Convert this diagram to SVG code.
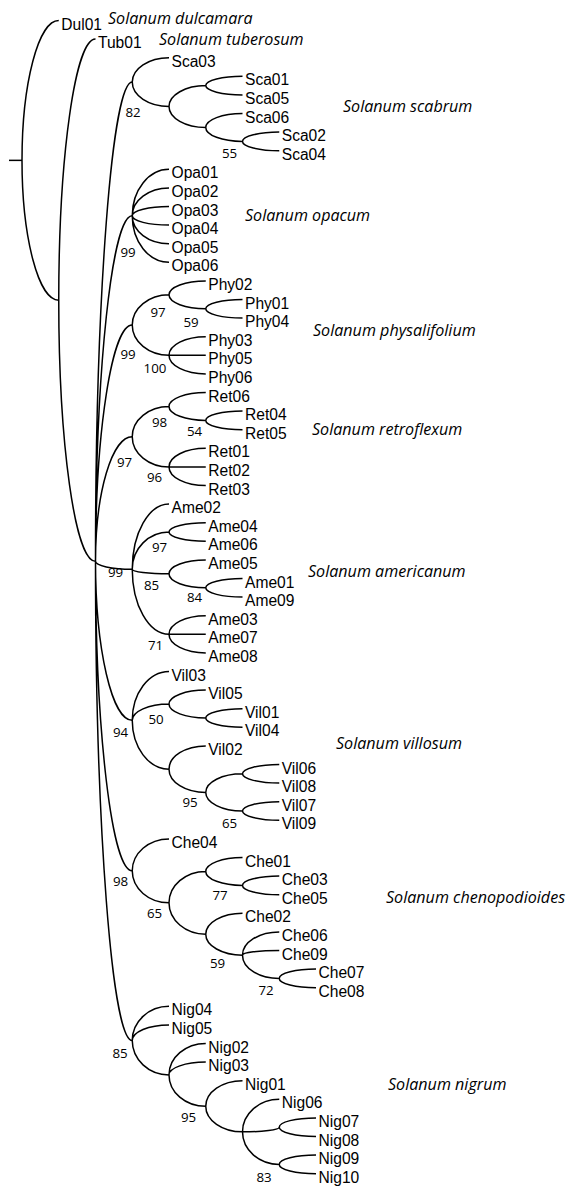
<svg xmlns="http://www.w3.org/2000/svg" width="572" height="1187" viewBox="0 0 572 1187">
<style>
.e{fill:none;stroke:#000;stroke-width:1.5}
.lf{font-family:"Liberation Sans",Arial,sans-serif;font-size:15.6px;fill:#000}
.sp{font-family:"Open Sans",sans-serif;font-style:italic;font-size:16.1px;fill:#000}
.bs{font-family:"Open Sans",sans-serif;font-size:13.3px;fill:#000;text-anchor:middle}
</style>
<rect width="572" height="1187" fill="#fff"/>
<g id="connectors" class="e">
<path d="M9 160.36H22"/>
<path d="M22 160.36A36.75 139.86 0 0 1 58.75 20.5M22 160.36A36.75 139.87 0 0 0 58.75 300.23"/>
<path d="M58.75 300.23A36.75 261.13 0 0 1 95.5 39.1M58.75 300.23A36.75 261.12 0 0 0 95.5 561.35"/>
<path d="M95.5 561.35A36.75 479.24 0 0 1 132.25 82.11M95.5 561.35A36.75 345.55 0 0 1 132.25 215.8M95.5 561.35A36.75 236.27 0 0 1 132.25 325.08M95.5 561.35A36.75 124.67 0 0 1 132.25 436.68M95.5 561.35A36.75 7.85 0 0 0 132.25 569.2M95.5 561.35A36.75 158.98 0 0 0 132.25 720.33M95.5 561.35A36.75 309.52 0 0 0 132.25 870.87M95.5 561.35A36.75 479.24 0 0 0 132.25 1040.59"/>
<path d="M132.25 82.11A36.75 24.41 0 0 1 169 57.7M132.25 82.11A36.75 24.42 0 0 0 169 106.53M169 106.53A36.75 20.93 0 0 1 205.75 85.6M169 106.53A36.75 20.92 0 0 0 205.75 127.45M205.75 85.6A36.75 9.3 0 0 1 242.5 76.3M205.75 85.6A36.75 9.3 0 0 0 242.5 94.9M205.75 127.45A36.75 13.95 0 0 1 242.5 113.5M205.75 127.45A36.75 13.95 0 0 0 242.5 141.4M242.5 141.4A36.75 9.3 0 0 1 279.25 132.1M242.5 141.4A36.75 9.3 0 0 0 279.25 150.7"/>
<path d="M132.25 215.8A36.75 46.5 0 0 1 169 169.3M132.25 215.8A36.75 27.9 0 0 1 169 187.9M132.25 215.8A36.75 9.3 0 0 1 169 206.5M132.25 215.8A36.75 9.3 0 0 0 169 225.1M132.25 215.8A36.75 27.9 0 0 0 169 243.7M132.25 215.8A36.75 46.5 0 0 0 169 262.3"/>
<path d="M132.25 325.08A36.75 30.23 0 0 1 169 294.85M132.25 325.08A36.75 30.22 0 0 0 169 355.3M169 294.85A36.75 13.95 0 0 1 205.75 280.9M169 294.85A36.75 13.95 0 0 0 205.75 308.8M205.75 308.8A36.75 9.3 0 0 1 242.5 299.5M205.75 308.8A36.75 9.3 0 0 0 242.5 318.1M169 355.3A36.75 18.6 0 0 1 205.75 336.7M169 355.3H205.75M169 355.3A36.75 18.6 0 0 0 205.75 373.9"/>
<path d="M132.25 436.68A36.75 30.23 0 0 1 169 406.45M132.25 436.68A36.75 30.22 0 0 0 169 466.9M169 406.45A36.75 13.95 0 0 1 205.75 392.5M169 406.45A36.75 13.95 0 0 0 205.75 420.4M205.75 420.4A36.75 9.3 0 0 1 242.5 411.1M205.75 420.4A36.75 9.3 0 0 0 242.5 429.7M169 466.9A36.75 18.6 0 0 1 205.75 448.3M169 466.9H205.75M169 466.9A36.75 18.6 0 0 0 205.75 485.5"/>
<path d="M132.25 569.2A36.75 65.1 0 0 1 169 504.1M132.25 569.2A36.75 37.2 0 0 1 169 532M132.25 569.2A36.75 4.65 0 0 0 169 573.85M132.25 569.2A36.75 65.1 0 0 0 169 634.3M169 532A36.75 9.3 0 0 1 205.75 522.7M169 532A36.75 9.3 0 0 0 205.75 541.3M169 573.85A36.75 13.95 0 0 1 205.75 559.9M169 573.85A36.75 13.95 0 0 0 205.75 587.8M205.75 587.8A36.75 9.3 0 0 1 242.5 578.5M205.75 587.8A36.75 9.3 0 0 0 242.5 597.1M169 634.3A36.75 18.6 0 0 1 205.75 615.7M169 634.3H205.75M169 634.3A36.75 18.6 0 0 0 205.75 652.9"/>
<path d="M132.25 720.33A36.75 48.83 0 0 1 169 671.5M132.25 720.33A36.75 16.28 0 0 1 169 704.05M132.25 720.33A36.75 48.82 0 0 0 169 769.15M169 704.05A36.75 13.95 0 0 1 205.75 690.1M169 704.05A36.75 13.95 0 0 0 205.75 718M205.75 718A36.75 9.3 0 0 1 242.5 708.7M205.75 718A36.75 9.3 0 0 0 242.5 727.3M169 769.15A36.75 23.25 0 0 1 205.75 745.9M169 769.15A36.75 23.25 0 0 0 205.75 792.4M205.75 792.4A36.75 18.6 0 0 1 242.5 773.8M205.75 792.4A36.75 18.6 0 0 0 242.5 811M242.5 773.8A36.75 9.3 0 0 1 279.25 764.5M242.5 773.8A36.75 9.3 0 0 0 279.25 783.1M242.5 811A36.75 9.3 0 0 1 279.25 801.7M242.5 811A36.75 9.3 0 0 0 279.25 820.3"/>
<path d="M132.25 870.87A36.75 31.97 0 0 1 169 838.9M132.25 870.87A36.75 31.97 0 0 0 169 902.84M169 902.84A36.75 31.39 0 0 1 205.75 871.45M169 902.84A36.75 31.39 0 0 0 205.75 934.23M205.75 871.45A36.75 13.95 0 0 1 242.5 857.5M205.75 871.45A36.75 13.95 0 0 0 242.5 885.4M242.5 885.4A36.75 9.3 0 0 1 279.25 876.1M242.5 885.4A36.75 9.3 0 0 0 279.25 894.7M205.75 934.23A36.75 20.93 0 0 1 242.5 913.3M205.75 934.23A36.75 20.92 0 0 0 242.5 955.15M242.5 955.15A36.75 23.25 0 0 1 279.25 931.9M242.5 955.15A36.75 4.65 0 0 1 279.25 950.5M242.5 955.15A36.75 23.25 0 0 0 279.25 978.4M279.25 978.4A36.75 9.3 0 0 1 316 969.1M279.25 978.4A36.75 9.3 0 0 0 316 987.7"/>
<path d="M132.25 1040.59A36.75 34.29 0 0 1 169 1006.3M132.25 1040.59A36.75 15.69 0 0 1 169 1024.9M132.25 1040.59A36.75 34.3 0 0 0 169 1074.89M169 1074.89A36.75 31.39 0 0 1 205.75 1043.5M169 1074.89A36.75 12.79 0 0 1 205.75 1062.1M169 1074.89A36.75 31.39 0 0 0 205.75 1106.28M205.75 1106.28A36.75 25.58 0 0 1 242.5 1080.7M205.75 1106.28A36.75 25.57 0 0 0 242.5 1131.85M242.5 1131.85A36.75 32.55 0 0 1 279.25 1099.3M242.5 1131.85A36.75 4.65 0 0 0 279.25 1127.2M242.5 1131.85A36.75 32.55 0 0 0 279.25 1164.4M279.25 1127.2A36.75 9.3 0 0 1 316 1117.9M279.25 1127.2A36.75 9.3 0 0 0 316 1136.5M279.25 1164.4A36.75 9.3 0 0 1 316 1155.1M279.25 1164.4A36.75 9.3 0 0 0 316 1173.7"/>
</g>
<g id="leaves" class="lf">
<g id="Dul01"><text x="61.25" y="29.5">Dul01</text></g>
<g id="Tub01"><text x="98" y="48.1">Tub01</text></g>
<g id="Sca03"><text x="171.5" y="66.7">Sca03</text></g>
<g id="Sca01"><text x="245" y="85.3">Sca01</text></g>
<g id="Sca05"><text x="245" y="103.9">Sca05</text></g>
<g id="Sca06"><text x="245" y="122.5">Sca06</text></g>
<g id="Sca02"><text x="281.75" y="141.1">Sca02</text></g>
<g id="Sca04"><text x="281.75" y="159.7">Sca04</text></g>
<g id="Opa01"><text x="171.5" y="178.3">Opa01</text></g>
<g id="Opa02"><text x="171.5" y="196.9">Opa02</text></g>
<g id="Opa03"><text x="171.5" y="215.5">Opa03</text></g>
<g id="Opa04"><text x="171.5" y="234.1">Opa04</text></g>
<g id="Opa05"><text x="171.5" y="252.7">Opa05</text></g>
<g id="Opa06"><text x="171.5" y="271.3">Opa06</text></g>
<g id="Phy02"><text x="208.25" y="289.9">Phy02</text></g>
<g id="Phy01"><text x="245" y="308.5">Phy01</text></g>
<g id="Phy04"><text x="245" y="327.1">Phy04</text></g>
<g id="Phy03"><text x="208.25" y="345.7">Phy03</text></g>
<g id="Phy05"><text x="208.25" y="364.3">Phy05</text></g>
<g id="Phy06"><text x="208.25" y="382.9">Phy06</text></g>
<g id="Ret06"><text x="208.25" y="401.5">Ret06</text></g>
<g id="Ret04"><text x="245" y="420.1">Ret04</text></g>
<g id="Ret05"><text x="245" y="438.7">Ret05</text></g>
<g id="Ret01"><text x="208.25" y="457.3">Ret01</text></g>
<g id="Ret02"><text x="208.25" y="475.9">Ret02</text></g>
<g id="Ret03"><text x="208.25" y="494.5">Ret03</text></g>
<g id="Ame02"><text x="171.5" y="513.1">Ame02</text></g>
<g id="Ame04"><text x="208.25" y="531.7">Ame04</text></g>
<g id="Ame06"><text x="208.25" y="550.3">Ame06</text></g>
<g id="Ame05"><text x="208.25" y="568.9">Ame05</text></g>
<g id="Ame01"><text x="245" y="587.5">Ame01</text></g>
<g id="Ame09"><text x="245" y="606.1">Ame09</text></g>
<g id="Ame03"><text x="208.25" y="624.7">Ame03</text></g>
<g id="Ame07"><text x="208.25" y="643.3">Ame07</text></g>
<g id="Ame08"><text x="208.25" y="661.9">Ame08</text></g>
<g id="Vil03"><text x="171.5" y="680.5">Vil03</text></g>
<g id="Vil05"><text x="208.25" y="699.1">Vil05</text></g>
<g id="Vil01"><text x="245" y="717.7">Vil01</text></g>
<g id="Vil04"><text x="245" y="736.3">Vil04</text></g>
<g id="Vil02"><text x="208.25" y="754.9">Vil02</text></g>
<g id="Vil06"><text x="281.75" y="773.5">Vil06</text></g>
<g id="Vil08"><text x="281.75" y="792.1">Vil08</text></g>
<g id="Vil07"><text x="281.75" y="810.7">Vil07</text></g>
<g id="Vil09"><text x="281.75" y="829.3">Vil09</text></g>
<g id="Che04"><text x="171.5" y="847.9">Che04</text></g>
<g id="Che01"><text x="245" y="866.5">Che01</text></g>
<g id="Che03"><text x="281.75" y="885.1">Che03</text></g>
<g id="Che05"><text x="281.75" y="903.7">Che05</text></g>
<g id="Che02"><text x="245" y="922.3">Che02</text></g>
<g id="Che06"><text x="281.75" y="940.9">Che06</text></g>
<g id="Che09"><text x="281.75" y="959.5">Che09</text></g>
<g id="Che07"><text x="318.5" y="978.1">Che07</text></g>
<g id="Che08"><text x="318.5" y="996.7">Che08</text></g>
<g id="Nig04"><text x="171.5" y="1015.3">Nig04</text></g>
<g id="Nig05"><text x="171.5" y="1033.9">Nig05</text></g>
<g id="Nig02"><text x="208.25" y="1052.5">Nig02</text></g>
<g id="Nig03"><text x="208.25" y="1071.1">Nig03</text></g>
<g id="Nig01"><text x="245" y="1089.7">Nig01</text></g>
<g id="Nig06"><text x="281.75" y="1108.3">Nig06</text></g>
<g id="Nig07"><text x="318.5" y="1126.9">Nig07</text></g>
<g id="Nig08"><text x="318.5" y="1145.5">Nig08</text></g>
<g id="Nig09"><text x="318.5" y="1164.1">Nig09</text></g>
<g id="Nig10"><text x="318.5" y="1182.7">Nig10</text></g>
</g>
<g id="species" class="sp">
<text x="108" y="24">Solanum dulcamara</text>
<text x="159" y="44.5">Solanum tuberosum</text>
<text x="343" y="112">Solanum scabrum</text>
<text x="245" y="221">Solanum opacum</text>
<text x="313" y="336">Solanum physalifolium</text>
<text x="312" y="435">Solanum retroflexum</text>
<text x="308" y="577">Solanum americanum</text>
<text x="336" y="749">Solanum villosum</text>
<text x="386" y="903">Solanum chenopodioides</text>
<text x="388" y="1090">Solanum nigrum</text>
</g>
<g id="support" class="bs">
<text x="133" y="117">82</text>
<text x="229.5" y="158">55</text>
<text x="128" y="257">99</text>
<text x="158" y="317">97</text>
<text x="191" y="327">59</text>
<text x="128" y="359">99</text>
<text x="155" y="373">100</text>
<text x="159.5" y="427">98</text>
<text x="194.5" y="436">54</text>
<text x="124.5" y="467">97</text>
<text x="154.5" y="482">96</text>
<text x="159.5" y="552">97</text>
<text x="115.5" y="577">99</text>
<text x="151.5" y="590">85</text>
<text x="194.5" y="602">84</text>
<text x="155.5" y="650">71</text>
<text x="156" y="724">50</text>
<text x="120.5" y="737">94</text>
<text x="190" y="807">95</text>
<text x="229.5" y="828">65</text>
<text x="120.5" y="886">98</text>
<text x="154.5" y="918">65</text>
<text x="220" y="900">77</text>
<text x="217.5" y="968">59</text>
<text x="266" y="995">72</text>
<text x="120" y="1058">85</text>
<text x="188.5" y="1122">95</text>
<text x="264" y="1182">83</text>
</g>
</svg>
